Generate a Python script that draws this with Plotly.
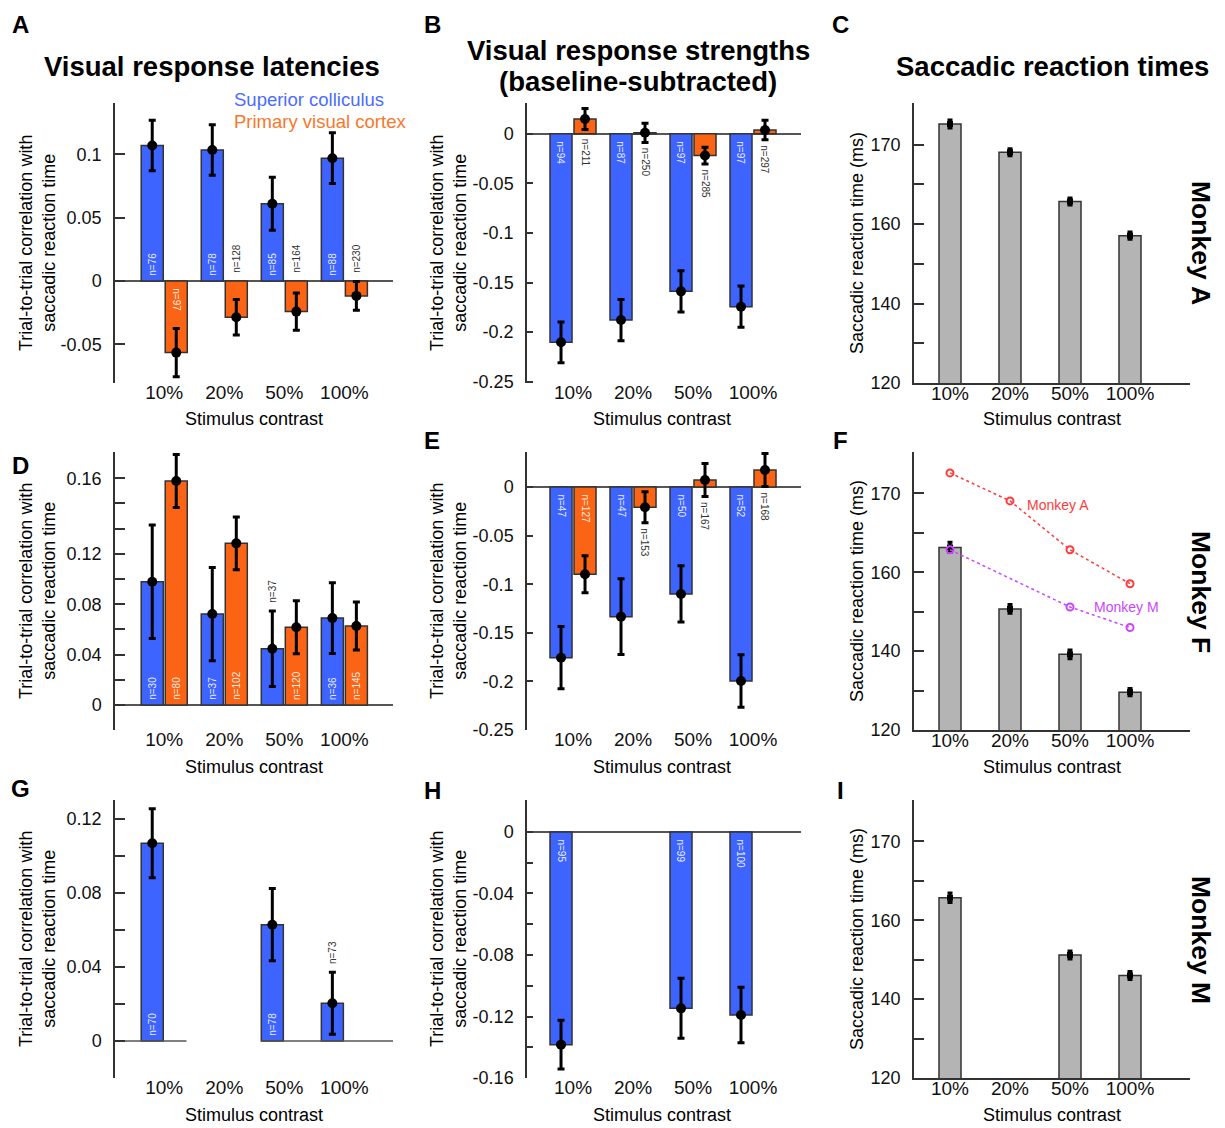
import plotly.graph_objects as go

W, H = 1225, 1128
FONT = "Liberation Sans, Arial, Helvetica, sans-serif"
BLUE = "#3d64ff"
ORANGE = "#fa6414"
GRAY = "#b4b4b4"
EDGE = "#333333"
RED = "#ff3b3b"
MAGENTA = "#cc44ff"

contrasts = ["10%", "20%", "50%", "100%"]

# ---- Monkey A ----
A_sc = [0.107, 0.1035, 0.061, 0.097]
A_sc_err = [0.020, 0.020, 0.021, 0.020]
A_sc_n = [76, 78, 85, 88]
A_v1 = [-0.0566, -0.0287, -0.0242, -0.0118]
A_v1_err = [0.019, 0.014, 0.0147, 0.0114]
A_v1_n = [97, 128, 164, 230]

B_sc = [-0.2103, -0.1878, -0.1589, -0.1744]
B_sc_err = [0.0205, 0.0208, 0.0207, 0.0208]
B_sc_n = [94, 87, 97, 97]
B_v1 = [0.0148, 0.001, -0.022, 0.0037]
B_v1_err = [0.0106, 0.0097, 0.0085, 0.0098]
B_v1_n = [211, 250, 285, 297]

C_rt = [185.2, 178.1, 165.7, 157.1]
C_rt_err = [1.0, 0.9, 0.9, 0.9]

# ---- Monkey F ----
D_sc = [0.0979, 0.0722, 0.0447, 0.069]
D_sc_err = [0.045, 0.037, 0.030, 0.028]
D_sc_n = [30, 37, 37, 36]
D_v1 = [0.1778, 0.1283, 0.0617, 0.0627]
D_v1_err = [0.021, 0.021, 0.021, 0.019]
D_v1_n = [80, 102, 120, 145]

E_sc = [-0.1756, -0.1334, -0.110, -0.1996]
E_sc_err = [0.032, 0.039, 0.029, 0.027]
E_sc_n = [47, 47, 50, 52]
E_v1 = [-0.0898, -0.0209, 0.0072, 0.0175]
E_v1_err = [0.019, 0.016, 0.017, 0.017]
E_v1_n = [127, 153, 167, 168]

F_rt = [166.3, 150.7, 139.2, 129.6]
F_rt_err = [1.3, 1.1, 1.1, 0.9]

# ---- Monkey M ----
G_sc = [0.1069, None, 0.0629, 0.0204]
G_sc_err = [0.0187, None, 0.0195, 0.0168]
G_sc_n = [70, None, 78, 73]

H_sc = [-0.1383, None, -0.1147, -0.119]
H_sc_err = [0.0158, None, 0.0195, 0.018]
H_sc_n = [95, None, 99, 100]

I_rt = [165.7, None, 151.2, 146.0]
I_rt_err = [1.2, None, 1.0, 1.0]

# ticks
rt_tickvals = [120, 130, 140, 150, 160, 170, 180]
rt_ticktext = ["120", "", "140", "", "160", "", "170"]

# ---------------- layout helpers ----------------
def px_x(x):
    return x / W

def px_y(y):
    return 1 - y / H

COLS = [(115, 393), (527, 801), (914, 1190)]
ROWS = [(103, 383), (452, 730), (800, 1078)]
XRANGES = [[-0.82, 3.81], [-0.767, 3.8], [-0.6, 4.0]]
TICKLEN = [10, 6, 10]
BAR_W = 0.367
OFF = 0.2

fig = go.Figure()
annotations = []
layout_axes = {}


def ax_names(idx):
    s = "" if idx == 1 else str(idx)
    return "x" + s, "y" + s, "xaxis" + s, "yaxis" + s


def setup_axes(idx, col, row, yrange, tickvals, ticktext, bottom_line, zeroline):
    xr, yr, xk, yk = ax_names(idx)
    c0, c1 = COLS[col]
    r0, r1 = ROWS[row]
    layout_axes[xk] = dict(
        domain=[px_x(c0), px_x(c1)], range=XRANGES[col], anchor=yr, automargin=False,
        tickvals=[0, 1, 2, 3], ticktext=contrasts, ticks="",
        showline=bottom_line, linecolor=EDGE, linewidth=1.5,
        showgrid=False, zeroline=False, ticklabelstandoff=-8 if bottom_line else -4,
        tickfont=dict(size=19, color="#111", family=FONT),
    )
    layout_axes[yk] = dict(
        domain=[px_y(r1), px_y(r0)], range=yrange, anchor=xr, automargin=False,
        tickvals=tickvals, ticktext=ticktext, ticks="inside", ticklen=TICKLEN[col],
        tickwidth=1.5, tickcolor=EDGE, showline=True, linecolor=EDGE, linewidth=1.5,
        showgrid=False, zeroline=zeroline, zerolinecolor="#555", zerolinewidth=1.5,
        tickfont=dict(size=18, color="#111", family=FONT), ticklabelstandoff=8,
    )


def n_label(xr, yr, x, y, n, up, inside):
    annotations.append(dict(
        x=x, y=y, xref=xr, yref=yr, text=f"n={n}", showarrow=False,
        textangle=-90 if up else 90,
        yanchor="bottom" if up else "top", xanchor="center",
        yshift=(3 if inside else 6) if up else (-5 if inside else -3),
        font=dict(size=10, family=FONT,
                  color="rgba(255,255,255,0.9)" if inside else "#333"),
    ))


def corr_panel(idx, series):
    xr, yr, _, _ = ax_names(idx)
    first_vals = [v for v in series[0][0] if v is not None]
    direction_up = sum(first_vals) > 0
    for vals, errs, ns, color, dx in series:
        xs = [i + dx for i in range(len(contrasts))]
        fig.add_trace(go.Bar(
            x=xs, y=vals, width=BAR_W, xaxis=xr, yaxis=yr, showlegend=False,
            marker=dict(color=color, line=dict(color=EDGE, width=1.5)),
        ))
        fig.add_trace(go.Scatter(
            x=xs, y=vals, mode="markers", xaxis=xr, yaxis=yr, showlegend=False,
            marker=dict(color="black", size=10),
            error_y=dict(type="data", array=errs, color="black", thickness=3, width=3.5),
        ))
        for i, (v, e, n) in enumerate(zip(vals, errs, ns)):
            if v is None:
                continue
            if abs(v) >= 0.05:
                n_label(xr, yr, xs[i], 0, n, v > 0, True)
            else:
                if direction_up:
                    n_label(xr, yr, xs[i], max(0, v + e), n, True, False)
                else:
                    n_label(xr, yr, xs[i], min(0, v - e), n, False, False)


def rt_panel(idx, vals, errs):
    xr, yr, _, _ = ax_names(idx)
    xs = list(range(len(contrasts)))
    fig.add_trace(go.Bar(
        x=xs, y=vals, width=BAR_W, xaxis=xr, yaxis=yr, showlegend=False,
        marker=dict(color=GRAY, line=dict(color=EDGE, width=1.5)),
    ))
    fig.add_trace(go.Scatter(
        x=xs, y=vals, mode="markers", xaxis=xr, yaxis=yr, showlegend=False,
        marker=dict(color="black", size=6, symbol="square"),
        error_y=dict(type="data", array=errs, color="black", thickness=3, width=2.5),
    ))


# ---------------- build panels ----------------
setup_axes(1, 0, 0, [-0.0806, 0.1406], [-0.05, 0, 0.05, 0.1], ["-0.05", "0", "0.05", "0.1"], False, True)
corr_panel(1, [(A_sc, A_sc_err, A_sc_n, BLUE, -OFF), (A_v1, A_v1_err, A_v1_n, ORANGE, OFF)])

setup_axes(2, 1, 0, [-0.2513, 0.031], [0, -0.05, -0.1, -0.15, -0.2, -0.25],
           ["0", "-0.05", "-0.1", "-0.15", "-0.2", "-0.25"], False, True)
corr_panel(2, [(B_sc, B_sc_err, B_sc_n, BLUE, -OFF), (B_v1, B_v1_err, B_v1_n, ORANGE, OFF)])

setup_axes(3, 2, 0, [120, 190.5], rt_tickvals, rt_ticktext, True, False)
rt_panel(3, C_rt, C_rt_err)

setup_axes(4, 0, 1, [-0.0198, 0.2008], [0, 0.02, 0.04, 0.06, 0.08, 0.1, 0.12, 0.14, 0.16, 0.18],
           ["0", "", "0.04", "", "0.08", "", "0.12", "", "", "0.16"], False, True)
corr_panel(4, [(D_sc, D_sc_err, D_sc_n, BLUE, -OFF), (D_v1, D_v1_err, D_v1_n, ORANGE, OFF)])

setup_axes(5, 1, 1, [-0.25, 0.036], [0, -0.05, -0.1, -0.15, -0.2, -0.25],
           ["0", "-0.05", "-0.1", "-0.15", "-0.2", "-0.25"], False, True)
corr_panel(5, [(E_sc, E_sc_err, E_sc_n, BLUE, -OFF), (E_v1, E_v1_err, E_v1_n, ORANGE, OFF)])

setup_axes(6, 2, 1, [120, 190.5], rt_tickvals, rt_ticktext, True, False)
rt_panel(6, F_rt, F_rt_err)
fig.add_trace(go.Scatter(
    x=list(range(4)), y=C_rt, mode="lines+markers", xaxis="x6", yaxis="y6", showlegend=False,
    line=dict(color=RED, dash="dot", width=1.5),
    marker=dict(symbol="circle-open", size=7, color=RED, line=dict(width=2, color=RED)),
))
fig.add_trace(go.Scatter(
    x=list(range(4)), y=I_rt, mode="lines+markers", xaxis="x6", yaxis="y6", showlegend=False,
    connectgaps=True, line=dict(color=MAGENTA, dash="dot", width=1.5),
    marker=dict(symbol="circle-open", size=7, color=MAGENTA, line=dict(width=2, color=MAGENTA)),
))

setup_axes(7, 0, 2, [-0.02, 0.1303], [0, 0.02, 0.04, 0.06, 0.08, 0.1, 0.12],
           ["0", "", "0.04", "", "0.08", "", "0.12"], False, False)
corr_panel(7, [(G_sc, G_sc_err, G_sc_n, BLUE, -OFF)])
# zero line of G drawn only around categories that have data
gx, gy = [], []
present = [i for i, v in enumerate(G_sc) if v is not None]
runs = []
for i in present:
    if runs and i == runs[-1][-1] + 1:
        runs[-1].append(i)
    else:
        runs.append([i])
for r in runs:
    x0 = XRANGES[0][0] if r[0] == 0 else r[0] - 0.38
    x1 = XRANGES[0][1] if r[-1] == len(contrasts) - 1 else r[-1] + 0.37
    gx += [x0, x1, None]
    gy += [0, 0, None]
fig.add_trace(go.Scatter(x=gx, y=gy, mode="lines", xaxis="x7", yaxis="y7", showlegend=False,
                         line=dict(color="#555", width=1.5)))

setup_axes(8, 1, 2, [-0.16, 0.0208], [0, -0.02, -0.04, -0.06, -0.08, -0.1, -0.12, -0.14, -0.16],
           ["0", "", "-0.04", "", "-0.08", "", "-0.12", "", "-0.16"], False, True)
corr_panel(8, [(H_sc, H_sc_err, H_sc_n, BLUE, -OFF)])

setup_axes(9, 2, 2, [120, 190.5], rt_tickvals, rt_ticktext, True, False)
rt_panel(9, I_rt, I_rt_err)

# ---------------- texts ----------------
def txt(x, y, text, size, color="#000", bold=False, angle=0, xanchor="center", yanchor="middle"):
    annotations.append(dict(
        x=px_x(x), y=px_y(y), xref="paper", yref="paper", showarrow=False,
        text=f"<b>{text}</b>" if bold else text, textangle=angle,
        xanchor=xanchor, yanchor=yanchor,
        font=dict(size=size, color=color, family=FONT),
    ))

for letter, x, y in [("A", 20, 24), ("B", 432, 24), ("C", 840, 24),
                     ("D", 20, 465), ("E", 432, 440), ("F", 840, 440),
                     ("G", 20, 788), ("H", 432, 790), ("I", 840, 790)]:
    txt(x, y, letter, 24, bold=True)

txt(212, 66, "Visual response latencies", 27.5, bold=True)
txt(638, 50, "Visual response strengths", 27.5, bold=True)
txt(638, 82, "(baseline-subtracted)", 27.5, bold=True)
txt(1052, 66, "Saccadic reaction times", 27.5, bold=True)

txt(232, 100, "Superior colliculus", 18.5, color="#4a6cff", xanchor="left")
txt(232, 121, "Primary visual cortex", 18.5, color="#f9772a", xanchor="left")

corr_title = "Trial-to-trial correlation with<br>saccadic reaction time"
for r0, r1 in ROWS:
    yc = (r0 + r1) / 2
    txt(37, yc, corr_title, 18, angle=-90)
    txt(448, yc, corr_title, 18, angle=-90)
    txt(857, yc, "Saccadic reaction time (ms)", 18, angle=-90)

for yy in [419, 767, 1115]:
    for xc in [254, 662, 1052]:
        txt(xc, yy, "Stimulus contrast", 18)

txt(1201, 243, "Monkey A", 26.5, bold=True, angle=90)
txt(1201, 592, "Monkey F", 26.5, bold=True, angle=90)
txt(1201, 940, "Monkey M", 26.5, bold=True, angle=90)

txt(1025, 505, "Monkey A", 14, color=RED, xanchor="left")
txt(1092, 607, "Monkey M", 14, color=MAGENTA, xanchor="left")

fig.update_layout(
    template="none",
    width=W, height=H, margin=dict(l=0, r=0, t=0, b=0, autoexpand=False),
    paper_bgcolor="white", plot_bgcolor="white",
    showlegend=False, barmode="overlay",
    font=dict(family=FONT, color="#000"),
    annotations=annotations,
    **layout_axes,
)

fig.write_html("out.html", config={"displayModeBar": False},
               post_script="document.body.style.margin='0';")
